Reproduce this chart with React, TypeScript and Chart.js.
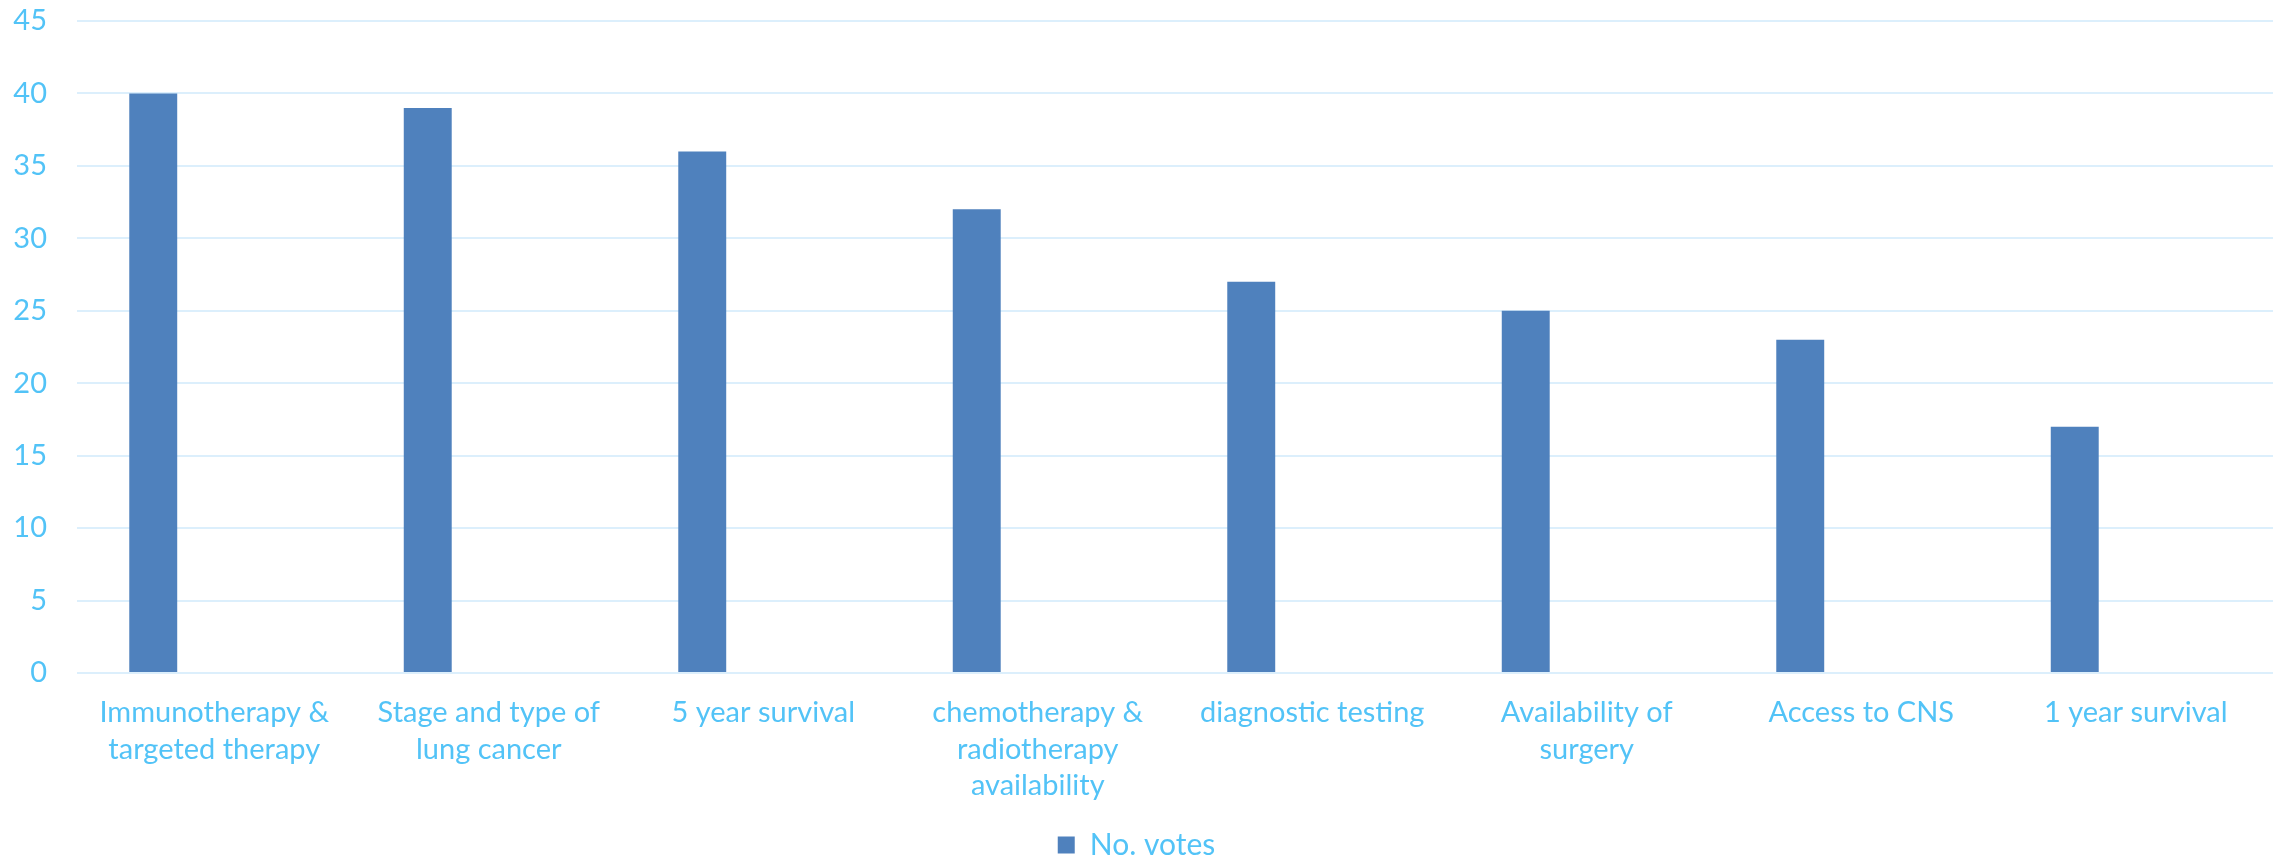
import React, { useEffect, useRef } from "react";
import { Chart, registerables } from "chart.js";

Chart.register(...registerables);

const categories: string[][] = [
  ["Immunotherapy &", "targeted therapy"],
  ["Stage and type of", "lung cancer"],
  ["5 year survival"],
  ["chemotherapy &", "radiotherapy", "availability"],
  ["diagnostic testing"],
  ["Availability of", "surgery"],
  ["Access to CNS"],
  ["1 year survival"],
];
const votes: number[] = [40, 39, 36, 32, 27, 25, 23, 17];
const emptySeries: (number | null)[] = [null, null, null, null, null, null, null, null];
const yTicks = { min: 0, max: 45, step: 5 };

const TEXT = "#52c3f7";
const BAR = "#4f81bd";
const GRID = "#dceffc";
const FONT = "Lato, 'Open Sans', sans-serif";

export default function App() {
  const ref = useRef<HTMLCanvasElement | null>(null);
  useEffect(() => {
    if (!ref.current) return;
    const chart = new Chart(ref.current, {
      type: "bar",
      data: {
        labels: categories,
        datasets: [
          {
            label: "No. votes",
            data: votes,
            backgroundColor: BAR,
            borderWidth: 0,
            categoryPercentage: 0.889,
            barPercentage: 0.393,
          },
          {
            label: "",
            data: emptySeries,
            backgroundColor: "rgba(0,0,0,0)",
            categoryPercentage: 0.889,
            barPercentage: 0.393,
          },
        ],
      },
      options: {
        animation: false,
        responsive: true,
        maintainAspectRatio: false,
        layout: { padding: { left: 0, right: 10, top: 0, bottom: -9 } },
        plugins: {
          title: { display: false },
          tooltip: { enabled: false },
          legend: {
            position: "bottom",
            labels: {
              color: TEXT,
              font: { family: FONT, size: 30 },
              boxWidth: 17,
              boxHeight: 17,
              padding: 6,
              filter: (item: any) => item.datasetIndex === 0,
            },
          },
        },
        scales: {
          x: {
            grid: { display: false },
            border: { display: false },
            ticks: {
              color: TEXT,
              font: { family: FONT, size: 29, lineHeight: 1.25 },
              maxRotation: 0,
              minRotation: 0,
              autoSkip: false,
              padding: 14,
            },
            afterFit: (scale: any) => {
              scale.height = 151;
            },
          },
          y: {
            min: yTicks.min,
            max: yTicks.max,
            grid: { color: GRID, lineWidth: 2, drawTicks: false },
            border: { display: false },
            ticks: {
              stepSize: yTicks.step,
              color: TEXT,
              font: { family: FONT, size: 29 },
              padding: 30,
            },
            afterFit: (scale: any) => {
              scale.width = 77;
              scale.paddingTop = 21;
              scale.paddingBottom = 0;
            },
          },
        },
      },
    });
    return () => chart.destroy();
  }, []);
  return (
    <div style={{ position: "fixed", left: 0, top: 0, width: 2283, height: 861, background: "#fff" }}>
      <canvas ref={ref} />
    </div>
  );
}
